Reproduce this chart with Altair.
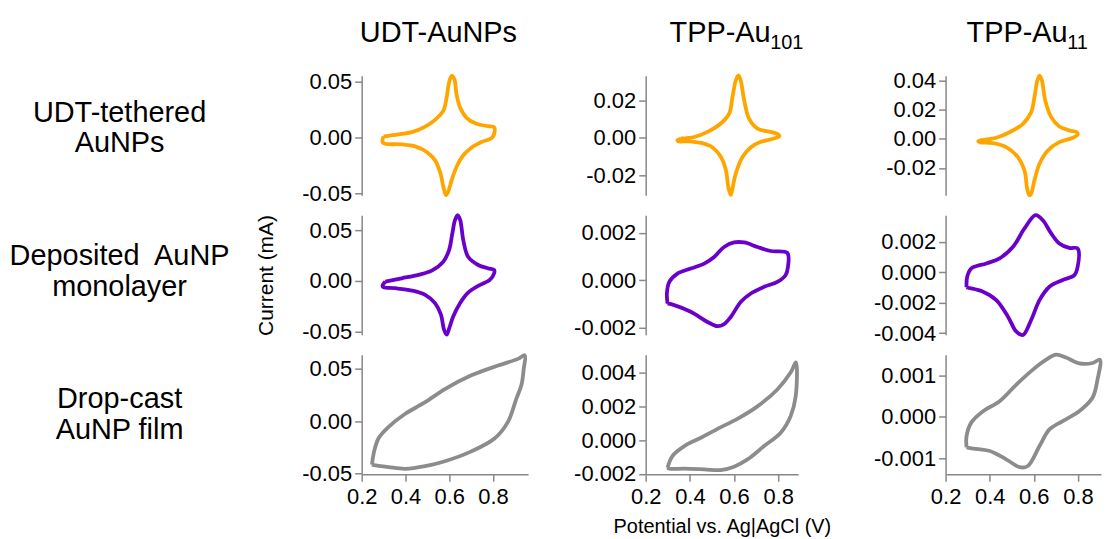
import altair as alt
import pandas as pd

# ---------------- data (potential V, current mA) ----------------
r1c1_v = [0.300,0.368,0.429,0.490,0.535,0.573,0.588,0.599,0.611,0.623,0.633,0.649,0.679,0.724,0.777,0.805,0.808,0.795,0.747,0.701,0.664,0.633,0.611,0.595,0.585,0.573,0.560,0.535,0.497,0.444,0.383,0.308,0.295]
r1c1_i = [0.0009,0.0027,0.0047,0.0097,0.0157,0.0239,0.0357,0.0490,0.0549,0.0520,0.0387,0.0268,0.0174,0.0121,0.0100,0.0091,0.0062,-0.0003,-0.0041,-0.0091,-0.0159,-0.0263,-0.0380,-0.0484,-0.0513,-0.0440,-0.0321,-0.0204,-0.0130,-0.0080,-0.0062,-0.0056,-0.0040]

r2c1_v = [0.308,0.383,0.459,0.520,0.573,0.599,0.614,0.626,0.638,0.650,0.664,0.686,0.732,0.777,0.805,0.805,0.785,0.732,0.686,0.649,0.618,0.600,0.588,0.576,0.562,0.535,0.490,0.429,0.353,0.300,0.295]
r2c1_i = [-0.0007,0.0026,0.0060,0.0101,0.0190,0.0304,0.0467,0.0598,0.0647,0.0598,0.0402,0.0238,0.0157,0.0124,0.0108,0.0075,0.0010,-0.0049,-0.0115,-0.0219,-0.0350,-0.0464,-0.0529,-0.0480,-0.0333,-0.0219,-0.0137,-0.0095,-0.0072,-0.0062,-0.0049]

r3c1_v = [0.247,0.255,0.277,0.323,0.399,0.490,0.580,0.701,0.823,0.914,0.945,0.940,0.930,0.906,0.868,0.808,0.701,0.580,0.490,0.399,0.323,0.255]
r3c1_i = [-0.0413,-0.0303,-0.0162,-0.0053,0.0072,0.0182,0.0307,0.0438,0.0532,0.0595,0.0630,0.0500,0.0350,0.0213,-0.0006,-0.0162,-0.0287,-0.0381,-0.0428,-0.0453,-0.0437,-0.0418]

r1c2_v = [0.359,0.420,0.480,0.540,0.578,0.593,0.608,0.620,0.630,0.646,0.668,0.706,0.766,0.799,0.805,0.781,0.721,0.675,0.639,0.608,0.593,0.585,0.575,0.563,0.540,0.503,0.451,0.390,0.347,0.344]
r1c2_i = [-0.0003,0.0005,0.0032,0.0077,0.0130,0.0219,0.0308,0.0334,0.0308,0.0201,0.0103,0.0050,0.0032,0.0020,0.0009,-0.0003,-0.0021,-0.0051,-0.0101,-0.0190,-0.0270,-0.0305,-0.0270,-0.0172,-0.0101,-0.0051,-0.0027,-0.0018,-0.0018,-0.0012]

r2c2_v = [0.299,0.296,0.307,0.344,0.404,0.465,0.510,0.555,0.600,0.646,0.706,0.766,0.841,0.844,0.833,0.796,0.736,0.676,0.631,0.585,0.555,0.525,0.480,0.404,0.329]
r2c2_i = [-0.00098,-0.00056,-0.00007,0.00028,0.00049,0.00070,0.00098,0.00140,0.00159,0.00159,0.00140,0.00123,0.00115,0.00056,0.00021,-0.00007,-0.00028,-0.00056,-0.00091,-0.00155,-0.00185,-0.00194,-0.00176,-0.00133,-0.00105]

r3c2_v = [0.299,0.321,0.375,0.450,0.525,0.615,0.706,0.796,0.856,0.880,0.879,0.856,0.811,0.736,0.661,0.600,0.540,0.465,0.375,0.307]
r3c2_i = [-0.00163,-0.00094,-0.00035,0.00014,0.00067,0.00126,0.00200,0.00300,0.00400,0.00460,0.00260,0.00142,0.00044,-0.00035,-0.00114,-0.00157,-0.00177,-0.00173,-0.00169,-0.00169]

r1c3_v = [0.370,0.430,0.490,0.551,0.588,0.603,0.616,0.626,0.637,0.652,0.679,0.716,0.761,0.795,0.799,0.777,0.716,0.664,0.626,0.603,0.588,0.580,0.570,0.558,0.528,0.475,0.415,0.355,0.348]
r1c3_i = [-0.0007,0.0007,0.0045,0.0102,0.0182,0.0284,0.0398,0.0432,0.0398,0.0262,0.0148,0.0084,0.0057,0.0045,0.0029,0.0007,-0.0023,-0.0080,-0.0171,-0.0285,-0.0376,-0.0387,-0.0342,-0.0217,-0.0126,-0.0057,-0.0030,-0.0023,-0.0016]

r2c3_v = [0.295,0.298,0.317,0.385,0.445,0.506,0.558,0.608,0.641,0.679,0.716,0.761,0.799,0.799,0.784,0.731,0.671,0.626,0.588,0.551,0.521,0.483,0.430,0.370,0.302]
r2c3_i = [-0.00098,-0.00029,0.00026,0.00059,0.00092,0.00168,0.00289,0.00376,0.00343,0.00256,0.00190,0.00161,0.00157,0.00037,-0.00018,-0.00050,-0.00094,-0.00182,-0.00313,-0.00411,-0.00390,-0.00291,-0.00182,-0.00127,-0.00101]

r3c3_v = [0.295,0.295,0.317,0.370,0.445,0.521,0.596,0.656,0.701,0.746,0.806,0.867,0.900,0.889,0.867,0.806,0.731,0.671,0.626,0.573,0.536,0.475,0.400,0.325]
r3c3_i = [-0.00073,-0.00046,-0.00013,0.00014,0.00038,0.00078,0.00114,0.00138,0.00150,0.00143,0.00129,0.00130,0.00138,0.00090,0.00047,0.00014,-0.00010,-0.00030,-0.00070,-0.00118,-0.00121,-0.00102,-0.00082,-0.00076]

col_titles = ["UDT-AuNPs", ("TPP-Au", "101"), ("TPP-Au", "11")]
row_labels = [["UDT-tethered", "AuNPs"], ["Deposited\u00a0 AuNP", "monolayer"], ["Drop-cast", "AuNP film"]]
x_ticks = [0.2, 0.4, 0.6, 0.8]
y_ticks = {
    (1, 1): [-0.05, 0.0, 0.05], (1, 2): [-0.02, 0.0, 0.02], (1, 3): [-0.02, 0.0, 0.02, 0.04],
    (2, 1): [-0.05, 0.0, 0.05], (2, 2): [-0.002, 0.0, 0.002], (2, 3): [-0.004, -0.002, 0.0, 0.002],
    (3, 1): [-0.05, 0.0, 0.05], (3, 2): [-0.002, 0.0, 0.002, 0.004], (3, 3): [-0.001, 0.0, 0.001],
}
y_domains = {
    (1, 1): [-0.0515, 0.055], (1, 2): [-0.0307, 0.0333], (1, 3): [-0.0387, 0.0432],
    (2, 1): [-0.053, 0.0647], (2, 2): [-0.0023, 0.00274], (2, 3): [-0.0041, 0.00376],
    (3, 1): [-0.0505, 0.0635], (3, 2): [-0.00202, 0.00506], (3, 3): [-0.00138, 0.0015],
}
x_domains = {1: [0.2, 0.96], 2: [0.2, 0.89], 3: [0.2, 0.905]}
col_widths = {1: 167, 2: 153, 3: 156}
row_colors = {1: "#FFA500", 2: "#6A00CC", 3: "#8C8C8C"}

series = {
    (1, 1): (r1c1_v, r1c1_i), (1, 2): (r1c2_v, r1c2_i), (1, 3): (r1c3_v, r1c3_i),
    (2, 1): (r2c1_v, r2c1_i), (2, 2): (r2c2_v, r2c2_i), (2, 3): (r2c3_v, r2c3_i),
    (3, 1): (r3c1_v, r3c1_i), (3, 2): (r3c2_v, r3c2_i), (3, 3): (r3c3_v, r3c3_i),
}

FONT = "Liberation Sans"
PANEL_H = 120
TITLE_H = 55
LABEL_W = 363
SP = {1: 118, 2: 148}
dummy = pd.DataFrame({"d": [0]})


def blank(w, h):
    return alt.Chart(dummy).mark_text(text="", fontSize=1).encode(
        x=alt.value(w / 2), y=alt.value(h / 2)).properties(width=w, height=h)


def panel(r, c):
    v, i = series[(r, c)]
    df = pd.DataFrame({"V": v + [v[0]], "I": i + [i[0]], "k": list(range(len(v) + 1))})
    fmt = ".2f" if abs(y_ticks[(r, c)][-1]) >= 0.01 else ".3f"
    xscale = alt.Scale(domain=x_domains[c], nice=False, zero=False)
    if r == 3:
        xaxis = alt.Axis(values=x_ticks, format=".1f", labelPadding=5, labelFlush=False,
                         title="Potential vs. Ag|AgCl (V)" if c == 2 else "",
                         titleFontSize=20, titlePadding=9)
        xenc = alt.X("V:Q", scale=xscale, axis=xaxis)
    else:
        xenc = alt.X("V:Q", scale=xscale, axis=None)
    yaxis = alt.Axis(values=y_ticks[(r, c)], format=fmt,
                     title="Current (mA)" if (r == 2 and c == 1) else "",
                     titleFontSize=21, titlePadding=25)
    return alt.Chart(df).mark_line(color=row_colors[r], strokeWidth=3.8,
                                   interpolate="catmull-rom").encode(
        x=xenc,
        y=alt.Y("I:Q", scale=alt.Scale(domain=y_domains[(r, c)], nice=False, zero=False), axis=yaxis),
        order=alt.Order("k:Q"),
    ).properties(width=col_widths[c], height=PANEL_H)


def title_cell(c):
    t = col_titles[c - 1]
    base = alt.Chart(dummy)
    if isinstance(t, str):
        return base.mark_text(text=t, font=FONT, fontSize=29, align="center",
                              baseline="alphabetic").encode(
            x=alt.value(77), y=alt.value(41)).properties(width=col_widths[c], height=TITLE_H)
    main, sub = t
    x0 = 24 if c == 2 else 21
    m = base.mark_text(text=main, font=FONT, fontSize=29, align="left",
                       baseline="alphabetic").encode(x=alt.value(x0), y=alt.value(41))
    s = base.mark_text(text=sub, font=FONT, fontSize=20, align="left",
                       baseline="alphabetic").encode(x=alt.value(x0 + 101), y=alt.value(48))
    return alt.layer(m, s).properties(width=col_widths[c], height=TITLE_H)


def label_cell(r):
    ys = {1: 37, 2: 41, 3: 45}
    return alt.Chart(dummy).mark_text(text=row_labels[r - 1], font=FONT, fontSize=29,
                                      align="center", baseline="middle", lineHeight=31).encode(
        x=alt.value(120), y=alt.value(ys[r])).properties(width=LABEL_W, height=PANEL_H)


cells = [blank(LABEL_W, TITLE_H), title_cell(1), blank(SP[1], TITLE_H), title_cell(2),
         blank(SP[2], TITLE_H), title_cell(3)]
for r in (1, 2, 3):
    cells += [label_cell(r), panel(r, 1), blank(SP[1], PANEL_H), panel(r, 2),
              blank(SP[2], PANEL_H), panel(r, 3)]

chart = alt.concat(*cells, columns=6, spacing={"row": 20, "column": 0},
                   bounds="flush", align="each").properties(
    padding=0, background="white"
).configure(
    locale={"number": {"decimal": ".", "thousands": ",", "grouping": [3],
                       "currency": ["$", ""], "minus": "-"}}
).configure_view(strokeWidth=0).configure_axis(
    domainColor="#888888", tickColor="#888888", domainWidth=1.5, tickWidth=1.5,
    tickSize=7, labelFont=FONT, labelFontSize=22, labelColor="black", labelPadding=3,
    titleFont=FONT, titleFontWeight="normal", titleColor="black", grid=False
)

chart.save("out.html", embed_options={"renderer": "svg", "actions": False})
